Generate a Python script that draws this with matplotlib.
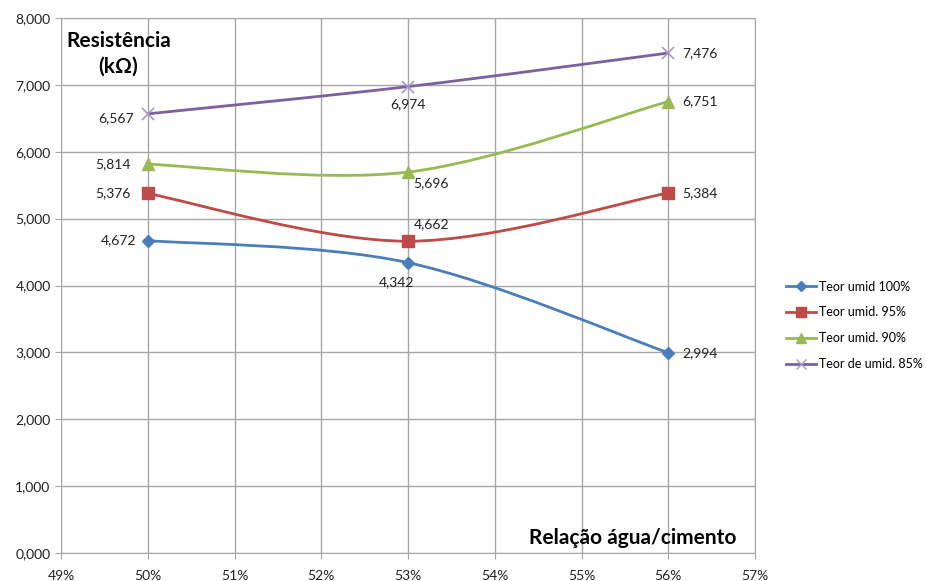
import matplotlib
matplotlib.use("Agg")
import matplotlib.pyplot as plt
from matplotlib.path import Path
from matplotlib.patches import PathPatch
from matplotlib.lines import Line2D

plt.rcParams['font.family'] = ['Lato', 'DejaVu Sans']

# data
x_vals = [0.50, 0.53, 0.56]
series_names = ["Teor umid 100%", "Teor umid. 95%", "Teor umid. 90%", "Teor de umid. 85%"]
umid_100 = [4672, 4342, 2994]
umid_95 = [5376, 4662, 5384]
umid_90 = [5814, 5696, 6751]
umid_85 = [6567, 6974, 7476]
y_ticks = [0, 1000, 2000, 3000, 4000, 5000, 6000, 7000, 8000]
y_tick_labels = ["0,000", "1,000", "2,000", "3,000", "4,000", "5,000", "6,000", "7,000", "8,000"]
x_ticks = [0.49, 0.50, 0.51, 0.52, 0.53, 0.54, 0.55, 0.56, 0.57]
x_tick_labels = ["49%", "50%", "51%", "52%", "53%", "54%", "55%", "56%", "57%"]

colors = ["#4A7EBB", "#BE4B48", "#98B954", "#7D60A0"]
markers = ["D", "s", "^", "x"]
msizes = [6, 8, 8, 8]
all_series = [umid_100, umid_95, umid_90, umid_85]

# label offsets in points (dx, dy, ha, va) for each point
label_pos = [
    [(-8, 0, "right", "center"), (-8, -10, "center", "top"), (10, 0, "left", "center")],
    [(-12, 0, "right", "center"), (4, 8, "left", "bottom"), (10, 0, "left", "center")],
    [(-12, 0, "right", "center"), (4, -4, "left", "top"), (10, 0, "left", "center")],
    [(-10, -3, "right", "center"), (0, -8, "center", "top"), (10, 0, "left", "center")],
]


def smooth_path(xs, ys):
    # Catmull-Rom style bezier like Excel smoothed lines
    pts = list(zip(xs, ys))
    verts = [pts[0]]
    codes = [Path.MOVETO]
    n = len(pts)
    for i in range(n - 1):
        p0 = pts[i - 1] if i > 0 else pts[i]
        p1 = pts[i]
        p2 = pts[i + 1]
        p3 = pts[i + 2] if i + 2 < n else pts[i + 1]
        c1 = (p1[0] + (p2[0] - p0[0]) / 6, p1[1] + (p2[1] - p0[1]) / 6)
        c2 = (p2[0] - (p3[0] - p1[0]) / 6, p2[1] - (p3[1] - p1[1]) / 6)
        verts += [c1, c2, p2]
        codes += [Path.CURVE4] * 3
    return Path(verts, codes)


fig = plt.figure(figsize=(9.26, 5.81), dpi=100)
ax = fig.add_axes([61 / 926, 28 / 581, 694 / 926, 535 / 581])

handles = []
for ys, name, c, m, ms, lp in zip(all_series, series_names, colors, markers, msizes, label_pos):
    patch = PathPatch(smooth_path(x_vals, ys), facecolor="none", edgecolor=c, lw=2, zorder=3)
    ax.add_patch(patch)
    mew = 1.2 if m == "x" else 1
    mc = "#A898C8" if m == "x" else c
    ax.plot(x_vals, ys, linestyle="none", marker=m, markersize=ms, color=mc, mew=mew, zorder=4)
    for xv, yv, (dx, dy, ha, va) in zip(x_vals, ys, lp):
        ax.annotate(f"{yv:,}", (xv, yv), xytext=(dx, dy), textcoords="offset points",
                    ha=ha, va=va, fontsize=10, color="#222222")
    handles.append(Line2D([], [], color=c, lw=2, marker=m, markersize=ms - 1, mec=mc, mfc=mc))

ax.set_xlim(0.49, 0.57)
ax.set_ylim(0, 8000)
ax.set_xticks(x_ticks)
ax.set_xticklabels(x_tick_labels, fontsize=10)
ax.set_yticks(y_ticks)
ax.set_yticklabels(y_tick_labels, fontsize=10)
ax.grid(True, color="#A6A6A6", lw=1)
ax.set_axisbelow(True)
for s in ax.spines.values():
    s.set_color("#A6A6A6")
ax.tick_params(colors="#A6A6A6", labelcolor="#222222", length=4, direction="out")
ax.tick_params(axis="x", pad=8)

ax.text(0.4966, 7470, "Resistência\n(kΩ)", ha="center", va="center", fontsize=15,
        fontweight="bold", linespacing=1.35)
ax.text(0.5679, 224, "Relação água/cimento", ha="right", va="center", fontsize=15,
        fontweight="bold")

fig.legend(handles, series_names, loc="center left", bbox_to_anchor=(775 / 926, 0.44),
           frameon=False, fontsize=9, handlelength=2.4, labelspacing=1.1, handletextpad=0.2)

fig.savefig("out.png", dpi=100, facecolor="white")
